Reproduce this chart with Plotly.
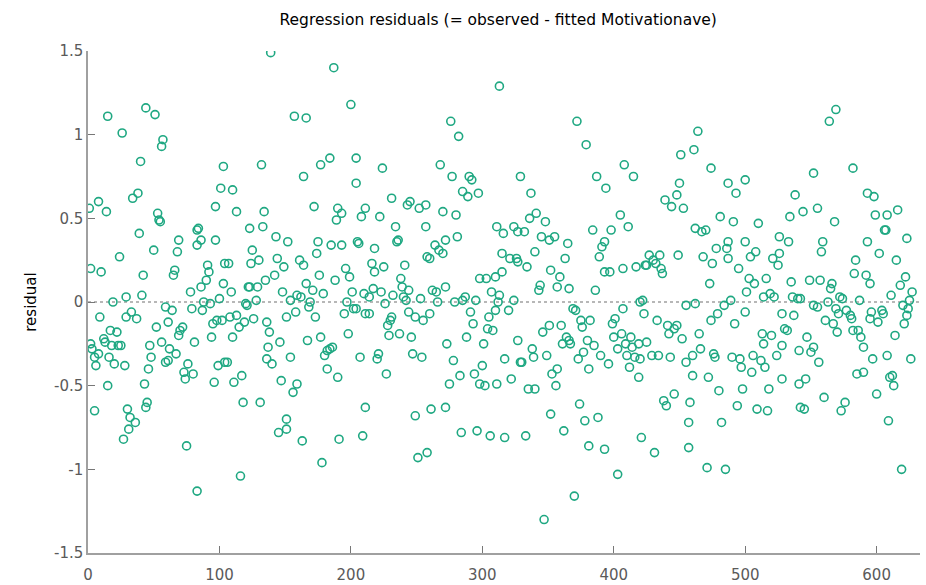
import plotly.graph_objects as go

# Residuals by observation, grouped in blocks of the observation index
obs_001_105 = [15, 44, 51, 26, 57, 56, 40, 103, 101, 38, 34, 8, 1, 14, 97, 53, 54, 55, 83, 84,
               39, 69, 86, 97, 83, 50, 68, 24, 2, 10, 91, 92, 42, 66, 65, 90, 104, 103, 86, 78,
               19, 29, 41, 59, 64, 79, 88, 93, 100, 87, 9, 29, 33, 37, 52, 61, 72, 70, 69, 17,
               22, 95, 98, 102, 94, 2, 12, 13, 18, 23, 25, 47, 56, 62, 67, 81, 3, 5, 8, 16,
               6, 20, 28, 48, 46, 59, 61, 76, 73, 74, 80, 99, 104, 15, 43, 96, 5, 30, 32, 36,
               31, 27, 44, 45, 75, 83]
res_001_105 = [1.11, 1.16, 1.12, 1.01, 0.97, 0.93, 0.84, 0.81, 0.68, 0.65, 0.62, 0.60, 0.56, 0.54, 0.57, 0.53, 0.49, 0.48, 0.43, 0.44,
               0.41, 0.37, 0.37, 0.37, 0.34, 0.31, 0.30, 0.27, 0.20, 0.18, 0.22, 0.18, 0.16, 0.19, 0.16, 0.13, 0.23, 0.11, 0.09, 0.06,
               0.00, 0.03, 0.04, -0.03, -0.05, -0.04, 0.00, -0.01, 0.02, -0.05, -0.09, -0.09, -0.06, -0.10, -0.15, -0.12, -0.15, -0.17, -0.20, -0.17,
               -0.18, -0.13, -0.11, -0.11, -0.21, -0.25, -0.22, -0.24, -0.26, -0.26, -0.26, -0.26, -0.24, -0.28, -0.31, -0.24, -0.28, -0.33, -0.31, -0.33,
               -0.38, -0.37, -0.38, -0.33, -0.40, -0.36, -0.35, -0.37, -0.42, -0.46, -0.43, -0.38, -0.36, -0.50, -0.49, -0.48, -0.65, -0.64, -0.69, -0.72,
               -0.76, -0.82, -0.63, -0.60, -0.86, -1.13]

obs_106_211 = [139, 187, 200, 157, 166, 132, 177, 184, 204, 164, 204, 110, 172, 190, 193, 189, 208, 211, 113, 134,
               123, 133, 143, 152, 175, 185, 193, 205, 206, 125, 174, 130, 124, 107, 144, 161, 164, 149, 196, 199,
               142, 135, 176, 188, 123, 122, 129, 109, 166, 171, 148, 159, 162, 179, 201, 210, 128, 154, 169, 197,
               120, 121, 108, 113, 119, 126, 115, 136, 138, 151, 158, 168, 173, 195, 202, 204, 211, 110, 137, 146,
               167, 177, 198, 106, 136, 140, 154, 180, 182, 186, 184, 207, 182, 190, 111, 117, 147, 159, 156, 118,
               131, 211, 151, 151, 145, 163, 191, 209, 178, 116]
res_106_211 = [1.49, 1.40, 1.18, 1.11, 1.10, 0.82, 0.82, 0.86, 0.86, 0.75, 0.71, 0.67, 0.57, 0.56, 0.53, 0.49, 0.51, 0.56, 0.54, 0.54,
               0.44, 0.45, 0.39, 0.36, 0.36, 0.34, 0.34, 0.36, 0.35, 0.31, 0.29, 0.25, 0.23, 0.23, 0.26, 0.25, 0.22, 0.21, 0.20, 0.15,
               0.16, 0.13, 0.16, 0.13, 0.09, 0.09, 0.09, 0.06, 0.11, 0.07, 0.06, 0.04, 0.03, 0.05, 0.06, 0.05, 0.01, 0.01, 0.00, 0.00,
               -0.01, -0.02, -0.09, -0.08, -0.12, -0.10, -0.15, -0.12, -0.18, -0.09, -0.06, -0.03, -0.09, -0.07, -0.04, -0.04, -0.07, -0.21, -0.27, -0.24,
               -0.23, -0.21, -0.19, -0.36, -0.34, -0.37, -0.33, -0.32, -0.29, -0.27, -0.28, -0.33, -0.40, -0.45, -0.48, -0.44, -0.47, -0.49, -0.54, -0.60,
               -0.60, -0.63, -0.70, -0.76, -0.78, -0.83, -0.82, -0.80, -0.96, -1.04]

obs_212_317 = [313, 276, 282, 224, 268, 277, 290, 292, 285, 289, 297, 231, 245, 243, 252, 257, 270, 280, 222, 234,
               257, 311, 316, 235, 236, 218, 264, 267, 270, 272, 281, 258, 260, 315, 216, 218, 225, 241, 238, 239,
               244, 262, 265, 272, 298, 303, 310, 315, 307, 313, 217, 214, 223, 232, 240, 242, 253, 226, 266, 279,
               287, 285, 295, 312, 214, 244, 249, 255, 260, 231, 230, 228, 229, 237, 246, 273, 288, 291, 293, 305,
               310, 304, 308, 301, 317, 220, 221, 247, 254, 278, 227, 283, 294, 300, 298, 302, 275, 311, 249, 261,
               272, 284, 296, 306, 317, 251, 258]
res_212_317 = [1.29, 1.08, 0.99, 0.80, 0.82, 0.75, 0.75, 0.73, 0.66, 0.63, 0.65, 0.62, 0.60, 0.58, 0.56, 0.58, 0.54, 0.52, 0.51, 0.45,
               0.45, 0.45, 0.41, 0.36, 0.37, 0.32, 0.34, 0.31, 0.29, 0.37, 0.39, 0.27, 0.26, 0.29, 0.23, 0.18, 0.21, 0.22, 0.14, 0.09,
               0.07, 0.07, 0.06, 0.09, 0.14, 0.14, 0.15, 0.18, 0.06, 0.04, 0.08, 0.03, 0.06, 0.04, 0.03, 0.01, 0.02, -0.01, 0.00, 0.00,
               0.03, 0.01, 0.01, 0.00, -0.07, -0.06, -0.09, -0.11, -0.07, -0.09, -0.11, -0.14, -0.20, -0.19, -0.21, -0.25, -0.21, -0.06, -0.13, -0.09,
               -0.05, -0.16, -0.17, -0.25, -0.34, -0.34, -0.31, -0.31, -0.33, -0.35, -0.43, -0.44, -0.43, -0.38, -0.49, -0.50, -0.49, -0.49, -0.68, -0.64,
               -0.63, -0.78, -0.77, -0.80, -0.81, -0.93, -0.90]

obs_318_424 = [372, 379, 329, 337, 408, 415, 387, 394, 341, 336, 348, 405, 411, 324, 327, 332, 345, 351, 355, 365,
               384, 398, 393, 391, 389, 340, 321, 326, 327, 334, 363, 352, 359, 393, 397, 407, 417, 324, 344, 343,
               357, 366, 386, 424, 420, 320, 369, 371, 407, 422, 423, 375, 376, 382, 401, 399, 351, 360, 346, 327,
               338, 339, 329, 330, 349, 364, 366, 367, 361, 380, 385, 377, 373, 390, 400, 406, 413, 403, 409, 414,
               410, 416, 420, 419, 381, 396, 412, 419, 353, 357, 356, 322, 335, 340, 374, 378, 388, 352, 362, 333,
               381, 393, 421, 403, 370, 347]
res_318_424 = [1.08, 0.94, 0.75, 0.65, 0.82, 0.75, 0.75, 0.68, 0.53, 0.50, 0.48, 0.52, 0.45, 0.45, 0.42, 0.42, 0.39, 0.37, 0.39, 0.35,
               0.43, 0.43, 0.36, 0.33, 0.27, 0.30, 0.26, 0.26, 0.24, 0.21, 0.26, 0.19, 0.15, 0.18, 0.18, 0.20, 0.21, 0.01, 0.10, 0.07,
               0.09, 0.08, 0.07, 0.22, 0.00, -0.05, -0.04, -0.05, -0.04, 0.01, -0.07, -0.11, -0.15, -0.11, -0.10, -0.13, -0.14, -0.14, -0.18, -0.23,
               -0.28, -0.33, -0.36, -0.36, -0.32, -0.21, -0.23, -0.25, -0.25, -0.23, -0.26, -0.30, -0.34, -0.32, -0.21, -0.19, -0.21, -0.28, -0.25, -0.27,
               -0.32, -0.33, -0.34, -0.25, -0.40, -0.37, -0.39, -0.45, -0.43, -0.40, -0.50, -0.46, -0.52, -0.52, -0.61, -0.71, -0.69, -0.67, -0.77, -0.80,
               -0.86, -0.88, -0.81, -1.03, -1.16, -1.30]

obs_425_530 = [464, 461, 451, 474, 450, 448, 439, 444, 453, 487, 493, 500, 481, 491, 510, 462, 467, 470, 526, 487,
               500, 486, 478, 468, 475, 487, 504, 508, 526, 521, 525, 427, 435, 430, 425, 432, 436, 437, 449, 495,
               503, 507, 516, 501, 473, 514, 519, 522, 455, 462, 484, 489, 433, 474, 479, 500, 492, 441, 442, 446,
               448, 452, 465, 425, 429, 434, 443, 455, 460, 466, 476, 477, 490, 496, 497, 506, 512, 515, 505, 524,
               513, 520, 514, 528, 530, 528, 460, 472, 480, 498, 518, 528, 446, 438, 440, 458, 494, 509, 517, 457,
               482, 431, 457, 471, 485]
res_425_530 = [1.02, 0.91, 0.88, 0.80, 0.71, 0.64, 0.61, 0.57, 0.56, 0.71, 0.65, 0.73, 0.51, 0.48, 0.47, 0.44, 0.42, 0.43, 0.39, 0.36,
               0.36, 0.32, 0.32, 0.27, 0.23, 0.26, 0.27, 0.30, 0.29, 0.26, 0.22, 0.28, 0.28, 0.25, 0.22, 0.23, 0.20, 0.17, 0.28, 0.20,
               0.14, 0.11, 0.14, 0.06, 0.11, 0.03, 0.05, 0.03, -0.02, -0.01, -0.02, 0.01, -0.11, -0.11, -0.07, -0.06, -0.13, -0.14, -0.19, -0.16,
               -0.14, -0.22, -0.19, -0.24, -0.32, -0.32, -0.33, -0.36, -0.32, -0.28, -0.31, -0.33, -0.33, -0.34, -0.39, -0.32, -0.35, -0.39, -0.42, -0.32,
               -0.19, -0.20, -0.25, -0.26, -0.16, -0.07, -0.44, -0.45, -0.53, -0.52, -0.52, -0.46, -0.55, -0.59, -0.62, -0.60, -0.62, -0.64, -0.65, -0.72,
               -0.72, -0.90, -0.87, -0.99, -1.00]

obs_531_627 = [569, 564, 582, 552, 538, 593, 598, 616, 555, 544, 534, 568, 599, 608, 606, 607, 623, 533, 559, 558,
               593, 602, 615, 584, 583, 592, 595, 622, 618, 627, 611, 535, 549, 557, 566, 565, 572, 574, 587, 536,
               540, 542, 552, 563, 625, 537, 555, 569, 571, 577, 580, 581, 567, 561, 595, 596, 601, 604, 605, 620,
               624, 623, 621, 532, 547, 582, 586, 588, 570, 614, 541, 550, 552, 556, 590, 597, 608, 626, 585, 590,
               610, 612, 613, 541, 546, 600, 560, 576, 573, 542, 545, 609, 619]
res_531_627 = [1.15, 1.08, 0.80, 0.77, 0.64, 0.65, 0.63, 0.55, 0.56, 0.54, 0.51, 0.48, 0.52, 0.52, 0.43, 0.43, 0.38, 0.36, 0.36, 0.30,
               0.36, 0.29, 0.25, 0.25, 0.17, 0.16, 0.11, 0.15, 0.10, 0.06, 0.04, 0.12, 0.13, 0.13, 0.11, 0.08, 0.03, 0.02, 0.01, 0.03,
               0.02, 0.02, -0.02, 0.00, 0.01, -0.08, -0.03, -0.04, -0.07, -0.05, -0.08, -0.10, -0.13, -0.11, -0.10, -0.06, -0.12, -0.05, -0.07, -0.02,
               -0.04, -0.08, -0.13, -0.17, -0.21, -0.17, -0.17, -0.21, -0.18, -0.20, -0.29, -0.30, -0.27, -0.36, -0.27, -0.34, -0.32, -0.34, -0.43, -0.42,
               -0.45, -0.44, -0.50, -0.49, -0.46, -0.55, -0.57, -0.60, -0.65, -0.63, -0.64, -0.71, -1.00]

x_ticks = [0, 100, 200, 300, 400, 500, 600]
y_ticks = [-1.5, -1, -0.5, 0, 0.5, 1, 1.5]
y_tick_text = ["-1.5", "-1", "-0.5", "0", "0.5", "1", "1.5"]

obs = (obs_001_105 + obs_106_211 + obs_212_317 + obs_318_424
       + obs_425_530 + obs_531_627)
res = (res_001_105 + res_106_211 + res_212_317 + res_318_424
       + res_425_530 + res_531_627)

GREEN = "#1fa882"
AXIS = "#a0a0a0"
TICKFONT = dict(family="DejaVu Sans", size=15, color="#5a5a5a")

fig = go.Figure()
fig.add_trace(go.Scatter(
    x=obs, y=res, mode="markers",
    marker=dict(symbol="circle-open", size=8, color=GREEN,
                line=dict(width=1.6, color=GREEN)),
    hoverinfo="x+y", showlegend=False,
))

# dotted zero reference line
fig.add_shape(type="line", xref="paper", yref="y", x0=0, x1=1, y0=0, y1=0,
              line=dict(color=AXIS, width=1.5, dash="dot"), layer="below")

fig.update_layout(
    width=926, height=585,
    margin=dict(l=88, r=6, t=51, b=32),
    paper_bgcolor="white", plot_bgcolor="white",
    title=dict(text="Regression residuals (= observed - fitted Motivationave)",
               x=0.538, xanchor="center", y=0.966, yanchor="middle", yref="container",
               font=dict(family="DejaVu Sans", size=15.5, color="#000000")),
    font=dict(family="DejaVu Sans"),
)
fig.update_xaxes(
    range=[0, 633], tickvals=x_ticks, ticks="inside", ticklen=7, tickwidth=1.2,
    tickcolor="#777777", showline=True, linecolor=AXIS, linewidth=1.5,
    showgrid=False, zeroline=False, tickfont=TICKFONT, mirror=False,
    ticklabelstandoff=7, automargin=False,
)
fig.update_yaxes(
    range=[-1.5, 1.5], tickvals=y_ticks, ticktext=y_tick_text, ticks="inside",
    ticklen=7, tickwidth=1.2, tickcolor="#777777", showline=True, linecolor=AXIS,
    linewidth=1.5, showgrid=False, zeroline=False, tickfont=TICKFONT, mirror=False,
    automargin=False,
    title=dict(text="residual", standoff=14,
               font=dict(family="DejaVu Sans", size=15, color="#000000")),
)

fig.write_html("out.html")
